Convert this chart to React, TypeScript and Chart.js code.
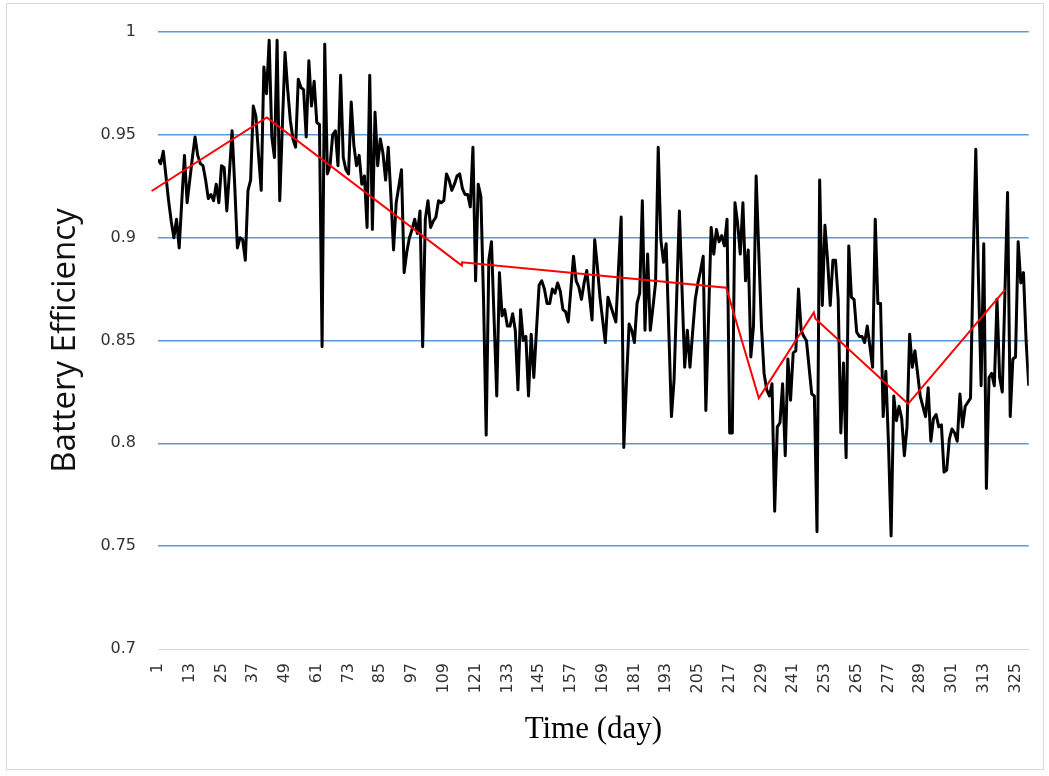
import { useEffect, useRef } from 'react';
import { Chart, registerables } from 'chart.js';

Chart.register(...registerables);

// Daily battery efficiency, day 1 .. day 330
const efficiency: number[] = [
  0.938, 0.936, 0.942, 0.930, 0.918, 0.908, 0.900, 0.909, 0.895, 0.918,
  0.940, 0.917, 0.928, 0.939, 0.949, 0.940, 0.936, 0.935, 0.928, 0.919,
  0.921, 0.918, 0.926, 0.917, 0.935, 0.934, 0.913, 0.932, 0.952, 0.925,
  0.895, 0.900, 0.899, 0.889, 0.923, 0.928, 0.964, 0.959, 0.940, 0.923,
  0.983, 0.970, 0.996, 0.949, 0.939, 0.996, 0.918, 0.955, 0.990, 0.972,
  0.957, 0.948, 0.944, 0.977, 0.973, 0.972, 0.949, 0.986, 0.964, 0.976,
  0.956, 0.955, 0.847, 0.994, 0.931, 0.935, 0.950, 0.952, 0.935, 0.979,
  0.939, 0.933, 0.931, 0.966, 0.945, 0.935, 0.940, 0.926, 0.930, 0.905,
  0.979, 0.904, 0.961, 0.935, 0.948, 0.941, 0.928, 0.944, 0.920, 0.894,
  0.917, 0.925, 0.933, 0.883, 0.893, 0.900, 0.904, 0.909, 0.902, 0.913,
  0.847, 0.909, 0.918, 0.905, 0.908, 0.910, 0.918, 0.917, 0.918, 0.931,
  0.928, 0.923, 0.926, 0.930, 0.931, 0.924, 0.921, 0.921, 0.915, 0.944,
  0.879, 0.926, 0.920, 0.870, 0.804, 0.889, 0.898, 0.860, 0.823, 0.883,
  0.862, 0.865, 0.857, 0.857, 0.863, 0.855, 0.826, 0.865, 0.850, 0.852,
  0.823, 0.853, 0.832, 0.855, 0.877, 0.879, 0.875, 0.868, 0.868, 0.875,
  0.873, 0.878, 0.874, 0.865, 0.864, 0.859, 0.875, 0.891, 0.879, 0.876,
  0.870, 0.878, 0.884, 0.872, 0.860, 0.899, 0.886, 0.871, 0.860, 0.849,
  0.871, 0.867, 0.863, 0.859, 0.885, 0.910, 0.798, 0.830, 0.858, 0.855,
  0.849, 0.868, 0.873, 0.918, 0.855, 0.892, 0.855, 0.866, 0.878, 0.944,
  0.899, 0.888, 0.897, 0.855, 0.813, 0.831, 0.872, 0.913, 0.875, 0.837,
  0.855, 0.837, 0.854, 0.870, 0.878, 0.884, 0.891, 0.816, 0.860, 0.905,
  0.892, 0.904, 0.898, 0.901, 0.896, 0.909, 0.805, 0.805, 0.917, 0.907,
  0.892, 0.917, 0.879, 0.894, 0.842, 0.857, 0.930, 0.893, 0.857, 0.834,
  0.826, 0.823, 0.829, 0.767, 0.808, 0.810, 0.829, 0.794, 0.841, 0.821,
  0.844, 0.845, 0.875, 0.855, 0.852, 0.850, 0.837, 0.824, 0.823, 0.757,
  0.928, 0.867, 0.906, 0.889, 0.867, 0.889, 0.889, 0.870, 0.805, 0.839,
  0.793, 0.896, 0.871, 0.870, 0.854, 0.852, 0.852, 0.849, 0.857, 0.847,
  0.837, 0.909, 0.868, 0.868, 0.813, 0.835, 0.800, 0.755, 0.823, 0.811,
  0.818, 0.812, 0.794, 0.808, 0.853, 0.837, 0.845, 0.834, 0.823, 0.818,
  0.813, 0.827, 0.801, 0.812, 0.814, 0.808, 0.809, 0.786, 0.787, 0.802,
  0.807, 0.805, 0.801, 0.824, 0.808, 0.818, 0.820, 0.822, 0.888, 0.943,
  0.880, 0.828, 0.897, 0.778, 0.832, 0.834, 0.828, 0.870, 0.832, 0.825,
  0.873, 0.922, 0.813, 0.841, 0.842, 0.898, 0.878, 0.883, 0.850, 0.828,
];

// Piecewise trend line: breakpoints (day) and values
const trendDays: number[] = [-1.4, 42.1, 115.8, 115.9, 215.7, 228.0, 248.8, 249.4, 284.4, 321.0];
const trendValues: number[] = [0.9227, 0.9585, 0.8864, 0.888, 0.8757, 0.822, 0.8636, 0.8606, 0.8192, 0.8746];

// Labelled days on the time axis
const dayTicks: number[] = [
  1, 13, 25, 37, 49, 61, 73, 85, 97, 109, 121, 133, 145, 157,
  169, 181, 193, 205, 217, 229, 241, 253, 265, 277, 289, 301, 313, 325,
];

// Efficiency axis
const yMin = 0.7;
const yMax = 1;
const yStep = 0.05;

export default function App() {
  const canvasRef = useRef<HTMLCanvasElement | null>(null);

  useEffect(() => {
    const canvas = canvasRef.current;
    if (!canvas) return;

    const chart = new Chart(canvas, {
      type: 'line',
      data: {
        datasets: [
          {
            label: 'Trend',
            data: trendDays.map((d, i) => ({ x: d, y: trendValues[i] })),
            borderColor: '#ff0000',
            borderWidth: 2,
            pointRadius: 0,
            tension: 0,
            clip: false as any,
            order: 0,
          },
          {
            label: 'Battery Efficiency',
            data: efficiency.map((v, i) => ({ x: i + 1, y: v })),
            borderColor: '#000000',
            borderWidth: 3,
            pointRadius: 0,
            tension: 0,
            borderJoinStyle: 'round',
            order: 1,
          },
        ],
      },
      options: {
        responsive: false,
        animation: false,
        layout: { padding: { top: 32, right: 19, bottom: 0, left: 0 } },
        plugins: {
          legend: { display: false },
          tooltip: { enabled: false },
        },
        scales: {
          x: {
            type: 'linear',
            min: 1,
            max: efficiency.length,
            afterBuildTicks: (scale: any) => {
              scale.ticks = dayTicks.map((v) => ({ value: v }));
            },
            afterFit: (scale: any) => {
              scale.height = 127;
            },
            ticks: {
              autoSkip: false,
              minRotation: 90,
              maxRotation: 90,
              padding: 14,
              color: '#333333',
              font: { family: 'DejaVu Sans', size: 16 },
              callback: (v: any) => String(v),
            },
            grid: { display: false, drawTicks: false },
            border: { display: true, color: '#d9d9d9', width: 1 },
            title: {
              display: true,
              text: 'Time (day)',
              color: '#000000',
              font: { family: 'Liberation Serif', size: 31 },
              padding: { top: 0, bottom: 28 },
            },
          },
          y: {
            min: yMin,
            max: yMax,
            afterFit: (scale: any) => {
              scale.width = 158;
            },
            ticks: {
              stepSize: yStep,
              padding: 22,
              color: '#333333',
              font: { family: 'DejaVu Sans', size: 16 },
              callback: (v: any) => String(Number(Number(v).toFixed(2))),
            },
            grid: {
              drawTicks: false,
              lineWidth: 1.5,
              color: (ctx: any) => (ctx.tick && Math.abs(ctx.tick.value - yMin) < 1e-9 ? 'rgba(0,0,0,0)' : '#5b9bd5'),
            },
            border: { display: false },
            title: {
              display: true,
              text: 'Battery Efficiency',
              color: '#111111',
              font: { family: 'Open Sans', size: 33 },
              padding: { top: 46, bottom: 0 },
            },
          },
        },
      },
    });

    return () => chart.destroy();
  }, []);

  return (
    <div style={{ position: 'fixed', left: 0, top: 0, width: 1049, height: 776, background: '#ffffff' }}>
      <div
        style={{
          position: 'absolute',
          left: 6,
          top: 3,
          width: 1038,
          height: 767,
          border: '1px solid #d9d9d9',
          boxSizing: 'border-box',
        }}
      />
      <canvas ref={canvasRef} width={1049} height={776} style={{ position: 'absolute', left: 0, top: 0 }} />
    </div>
  );
}
